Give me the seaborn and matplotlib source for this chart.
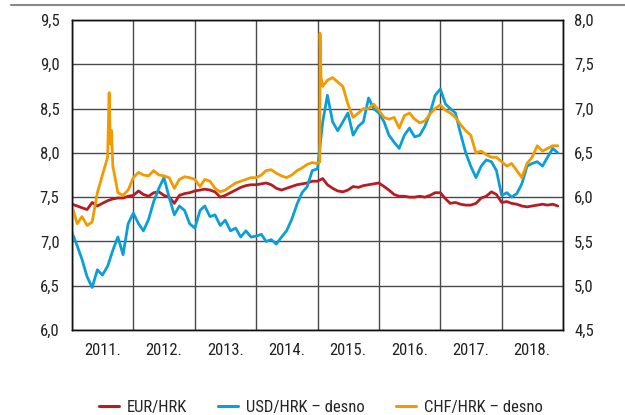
import matplotlib
matplotlib.use('Agg')
import matplotlib.pyplot as plt
import matplotlib.dates as mdates
from matplotlib import font_manager
from matplotlib.lines import Line2D
from matplotlib.ticker import FixedLocator, FuncFormatter
import seaborn as sns
import pandas as pd

# monthly values, Jan 2011 - Dec 2018
eur_hrk = [7.42, 7.40, 7.38, 7.36, 7.44, 7.40, 7.43, 7.46, 7.48, 7.49, 7.49, 7.51,
           7.52, 7.57, 7.53, 7.51, 7.55, 7.56, 7.52, 7.50, 7.43, 7.52, 7.54, 7.55,
           7.57, 7.58, 7.59, 7.58, 7.56, 7.50, 7.52, 7.55, 7.58, 7.61, 7.63, 7.64,
           7.64, 7.65, 7.66, 7.64, 7.60, 7.58, 7.60, 7.62, 7.64, 7.65, 7.66, 7.68,
           7.68, 7.71, 7.64, 7.60, 7.57, 7.56, 7.58, 7.62, 7.61, 7.63, 7.64, 7.65,
           7.66, 7.62, 7.58, 7.53, 7.51, 7.51, 7.50, 7.50, 7.51, 7.50, 7.52, 7.55,
           7.55, 7.48, 7.43, 7.44, 7.42, 7.41, 7.41, 7.43, 7.49, 7.51, 7.56, 7.53,
           7.44, 7.45, 7.43, 7.42, 7.40, 7.39, 7.40, 7.41, 7.42, 7.41, 7.42, 7.40]

usd_hrk = [5.60, 5.45, 5.30, 5.10, 4.98, 5.18, 5.12, 5.22, 5.40, 5.55, 5.35, 5.70,
           5.82, 5.70, 5.62, 5.75, 5.95, 6.10, 6.22, 6.00, 5.80, 5.90, 5.85, 5.70,
           5.65, 5.85, 5.90, 5.78, 5.80, 5.68, 5.74, 5.62, 5.65, 5.55, 5.62, 5.55,
           5.56, 5.58, 5.50, 5.52, 5.47, 5.55, 5.62, 5.75, 5.92, 6.05, 6.12, 6.30,
           6.32, 6.85, 7.15, 6.85, 6.75, 6.85, 6.95, 6.70, 6.80, 6.85, 7.12, 7.00,
           6.95, 6.85, 6.70, 6.62, 6.55, 6.70, 6.78, 6.68, 6.70, 6.80, 6.95, 7.15,
           7.22, 7.05, 7.00, 6.95, 6.72, 6.50, 6.35, 6.22, 6.35, 6.42, 6.40, 6.30,
           6.02, 6.05, 6.00, 6.04, 6.15, 6.35, 6.38, 6.40, 6.35, 6.45, 6.55, 6.50]

chf_hrk = [5.90, 5.70, 5.78, 5.68, 5.72, 6.05, 6.25, 6.45, 6.35, 6.05, 6.02, 6.08,
           6.22, 6.28, 6.25, 6.24, 6.30, 6.25, 6.24, 6.22, 6.10, 6.20, 6.23, 6.22,
           6.20, 6.12, 6.20, 6.18, 6.10, 6.06, 6.08, 6.12, 6.16, 6.18, 6.20, 6.22,
           6.22, 6.25, 6.30, 6.31, 6.27, 6.24, 6.22, 6.25, 6.30, 6.33, 6.37, 6.39,
           6.38, 7.25, 7.32, 7.35, 7.30, 7.25, 7.05, 6.90, 6.95, 7.00, 7.00, 7.05,
           6.98, 6.90, 6.88, 6.90, 6.78, 6.92, 6.95, 6.88, 6.84, 6.86, 6.94, 7.00,
           7.04, 6.98, 6.95, 6.90, 6.82, 6.75, 6.70, 6.50, 6.52, 6.48, 6.45, 6.45,
           6.40, 6.35, 6.38, 6.30, 6.22, 6.38, 6.45, 6.58, 6.52, 6.55, 6.58, 6.58]

# short spikes in CHF/HRK (Aug 2011, Jan 2015)
chf_spike_dates = ["2011-08-10", "2011-08-17", "2011-08-24",
                   "2015-01-15", "2015-01-16", "2015-01-22"]
chf_spike_vals = [7.18, 6.60, 6.75, 6.40, 7.85, 7.35]

years = ["2011.", "2012.", "2013.", "2014.", "2015.", "2016.", "2017.", "2018."]

dates = pd.date_range("2011-01-01", periods=len(eur_hrk), freq="MS")
df = pd.DataFrame({"date": dates, "EUR": eur_hrk, "USD": usd_hrk})
chf = pd.concat([
    pd.DataFrame({"date": dates, "CHF": chf_hrk}),
    pd.DataFrame({"date": pd.to_datetime(chf_spike_dates), "CHF": chf_spike_vals}),
]).sort_values("date")

sns.set_style("white")
# prefer a condensed face if one is installed
installed = {f.name for f in font_manager.fontManager.ttflist}
narrow = [n for n in ["Roboto Condensed", "Liberation Sans Narrow", "Open Sans Condensed"]
          if n in installed]
plt.rcParams['font.family'] = narrow + ['Liberation Sans', 'DejaVu Sans']
fs = 12 if narrow else 11

red = "#b81c22"
blue = "#0a9fd8"
orange = "#f39a00"
grid_c = "#4a4a4a"

fig = plt.figure(figsize=(6.25, 4.15), dpi=100)
ax = fig.add_axes([72 / 625, 1 - 330 / 415, (563 - 72) / 625, 310 / 415])
ax2 = ax.twinx()

sns.lineplot(data=df, x="date", y="EUR", ax=ax, color=red, linewidth=2.0,
             label="EUR/HRK", legend=False)
sns.lineplot(data=df, x="date", y="USD", ax=ax2, color=blue, linewidth=2.0,
             label="USD/HRK – desno", legend=False)
sns.lineplot(data=chf, x="date", y="CHF", ax=ax2, color=orange, linewidth=2.0,
             label="CHF/HRK – desno", legend=False)

ax.set_ylim(6.0, 9.5)
ax2.set_ylim(4.5, 8.0)
ax.set_yticks([6.0 + 0.5 * i for i in range(8)])
ax2.set_yticks([4.5 + 0.5 * i for i in range(8)])
comma = FuncFormatter(lambda v, p: f"{v:.1f}".replace(".", ","))
ax.yaxis.set_major_formatter(comma)
ax2.yaxis.set_major_formatter(comma)

start = pd.Timestamp("2011-01-01")
end = pd.Timestamp("2019-01-01")
ax.set_xlim(start, end)
bounds = [mdates.date2num(pd.Timestamp(f"{2011 + i}-01-01")) for i in range(9)]
mids = [mdates.date2num(pd.Timestamp(f"{2011 + i}-07-02")) for i in range(8)]
ax.xaxis.set_major_locator(FixedLocator(bounds))
ax.xaxis.set_major_formatter(FuncFormatter(lambda v, p: ""))
ax.xaxis.set_minor_locator(FixedLocator(mids))
ax.set_xticks(mids, years, minor=True)

ax.grid(True, which="major", color=grid_c, linewidth=1.0)
ax.set_axisbelow(True)
ax.tick_params(axis="both", which="both", length=0, labelsize=fs, colors="#222222")
ax.tick_params(axis="y", pad=9)
ax.tick_params(axis="x", which="both", pad=9)
ax2.tick_params(axis="both", which="both", length=0, labelsize=fs, colors="#222222", pad=8)
ax.set_xlabel("")
ax.set_ylabel("")
ax2.set_ylabel("")

for a in (ax, ax2):
    for s in a.spines.values():
        s.set_color("#111111")
        s.set_linewidth(1.0)

# decorative rule at the top
fig.add_artist(Line2D([11 / 625, 1.0], [1 - 5 / 415, 1 - 5 / 415],
                      color="#8a8a8a", linewidth=1.5))

handles = [Line2D([], [], color=red, linewidth=2.2),
           Line2D([], [], color=blue, linewidth=2.2),
           Line2D([], [], color=orange, linewidth=2.2)]
labels = ["EUR/HRK", "USD/HRK – desno", "CHF/HRK – desno"]
fig.legend(handles, labels, loc="center", bbox_to_anchor=(0.513, 1 - 407 / 415),
           ncol=3, frameon=False, fontsize=fs, handlelength=1.2,
           columnspacing=1.9, handletextpad=0.45, borderpad=0)

fig.savefig("out.png", dpi=100)
